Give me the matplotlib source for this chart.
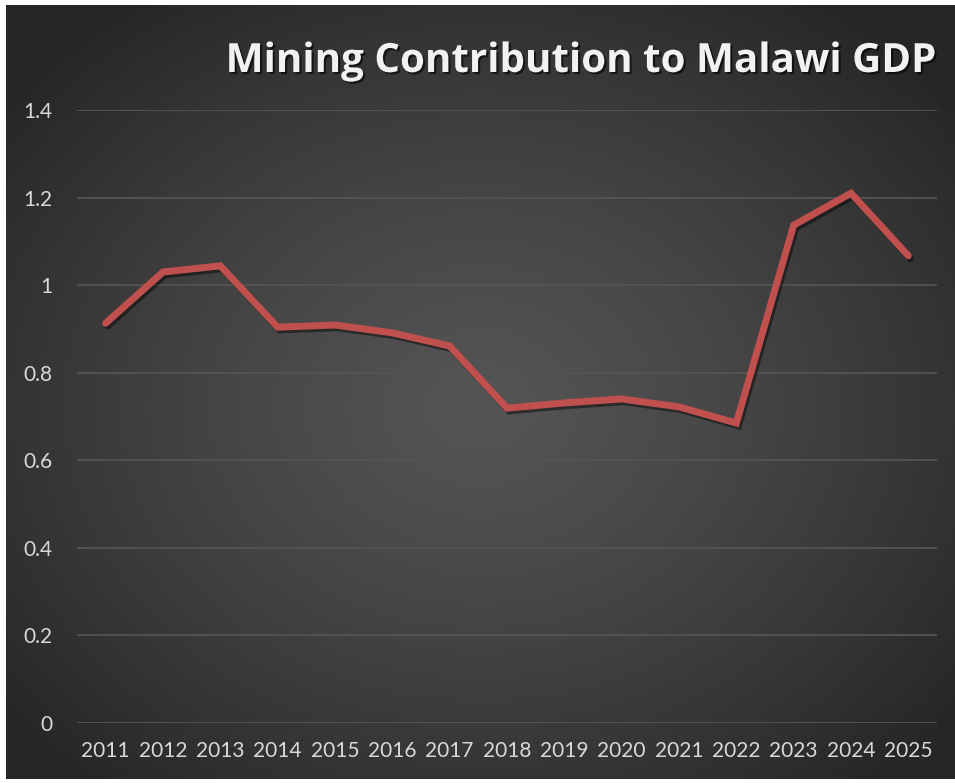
import numpy as np
import matplotlib.pyplot as plt
import matplotlib.patheffects as pe

# Mining share of GDP, percent
years = ['2011', '2012', '2013', '2014', '2015', '2016', '2017', '2018',
         '2019', '2020', '2021', '2022', '2023', '2024', '2025']
mining_share = [0.913, 1.030, 1.044, 0.904, 0.909, 0.891, 0.861, 0.719,
                0.731, 0.740, 0.722, 0.685, 1.137, 1.210, 1.067]
y_ticks = [0, 0.2, 0.4, 0.6, 0.8, 1, 1.2, 1.4]
y_labels = ['0', '0.2', '0.4', '0.6', '0.8', '1', '1.2', '1.4']

W, H = 955, 783
fig = plt.figure(figsize=(W / 100, H / 100), dpi=100, facecolor='white')

# dark radial gradient backdrop
bg = fig.add_axes([6 / W, 4 / H, 1 - 6 / W, 1 - 9 / H])
gx, gy = np.meshgrid(np.linspace(0, 1, 400), np.linspace(0, 1, 330))
r = np.sqrt(((gx - 0.5) / 0.75) ** 2 + ((gy - 0.52) / 0.75) ** 2)
shade = np.clip(0.33 - 0.22 * r ** 1.3, 0.15, 0.33)
bg.imshow(np.dstack([shade] * 3), aspect='auto', extent=[0, 1, 0, 1],
          interpolation='bilinear')
bg.axis('off')

ax = fig.add_axes([77 / W, 60 / H, 860 / W, 613 / H])
ax.patch.set_alpha(0)

x = np.arange(len(years))
ax.plot(x, mining_share, color='#c0504d', lw=5, solid_capstyle='round',
        solid_joinstyle='miter', zorder=3,
        path_effects=[pe.SimpleLineShadow(offset=(1.5, -2), shadow_color='black', alpha=0.45),
                      pe.Normal()])

ax.set_xlim(-0.5, len(years) - 0.5)
ax.set_ylim(0, 1.4)
ax.set_yticks(y_ticks)
ax.set_yticklabels(y_labels)
ax.set_xticks(x)
ax.set_xticklabels(years)
ax.grid(axis='y', color='#545454', lw=1.3)
ax.set_axisbelow(True)
for s in ax.spines.values():
    s.set_visible(False)
ax.tick_params(axis='both', length=0, colors='#d9d9d9', labelsize=15)
ax.tick_params(axis='y', pad=18)
ax.tick_params(axis='x', pad=13)
for lbl in ax.get_xticklabels() + ax.get_yticklabels():
    lbl.set_family(['Lato', 'DejaVu Sans'])

fig.text(935 / W, 1 - 72 / H, 'Mining Contribution to Malawi GDP',
         ha='right', va='baseline', color='#f2f2f2', fontsize=29,
         fontweight='bold', family=['Open Sans', 'DejaVu Sans'],
         path_effects=[pe.withSimplePatchShadow(offset=(1.5, -1.5), shadow_rgbFace='black', alpha=0.6)])

fig.savefig('out.png', dpi=100, facecolor='white')
